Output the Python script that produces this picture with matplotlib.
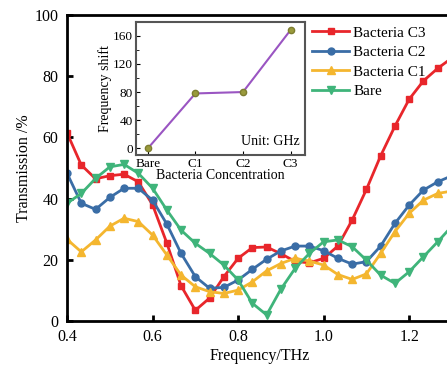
import numpy as np
import matplotlib
matplotlib.use("Agg")
from matplotlib import pyplot as plt
from matplotlib.ticker import MultipleLocator

# Main spectra, one point every 1/30 THz from 0.4 to 1.3
freq = np.round(0.4 + np.arange(28) / 30.0, 4)
c3 = [61.5, 51, 46.5, 47.5, 48, 45.5, 38, 25.5, 11.5, 3.5, 7.5, 14.5, 20.5, 24,
      24.2, 22, 19.5, 19, 20.5, 24.5, 33, 43, 54, 63.7, 72.5, 78.5, 82.6, 86]
c2 = [48.3, 38.5, 36.5, 40.4, 43.4, 43.4, 39.5, 31.7, 22.1, 14.5, 10.7, 11, 13.4, 16.9,
      20.2, 22.9, 24.5, 24.5, 23, 20.5, 18.6, 19.4, 24.5, 31.9, 37.9, 42.8, 45.5, 47.5]
c1 = [26.7, 22.6, 26.5, 31, 33.6, 32.5, 28.1, 21.6, 15, 11.2, 9.6, 9, 10.1, 12.8,
      16.4, 18.8, 20.5, 19.6, 18.3, 15.2, 13.6, 15.4, 22.1, 29.2, 35.2, 39.5, 41.7, 42.5]
bare = [38.5, 41.7, 46.6, 50.4, 51.2, 48.3, 43.4, 36.3, 29.7, 25.4, 22.1, 18.3, 13.4, 5.8,
        2, 10.4, 17.2, 22.1, 25.9, 26.5, 24.3, 19.9, 15, 12.3, 16.1, 21, 25.9, 31]

# Inset: frequency shift in GHz
conc = ["Bare", "C1", "C2", "C3"]
shift = [0, 78, 80, 168]

plt.rcParams["font.family"] = ["Liberation Serif", "DejaVu Serif"]

fig = plt.figure(figsize=(4.47, 3.65), dpi=100)
ax = fig.add_axes([0.150, 0.1205, 0.861, 0.838])

ax.plot(freq, c3, "-s", color="#e8262b", lw=2, ms=5, label="Bacteria C3")
ax.plot(freq, c2, "-o", color="#3a6da6", lw=2, ms=5, label="Bacteria C2")
ax.plot(freq, c1, "-^", color="#f4b62f", lw=2, ms=5.5, label="Bacteria C1")
ax.plot(freq, bare, "-v", color="#3fb47a", lw=2, ms=5.5, label="Bare")

ax.set_xlim(0.4, 1.3)
ax.set_ylim(0, 100)
ax.set_xticks([0.4, 0.6, 0.8, 1.0, 1.2])
ax.set_yticks([0, 20, 40, 60, 80, 100])
ax.tick_params(direction="in", width=2, length=4, labelsize=11.5, pad=6)
for s in ax.spines.values():
    s.set_linewidth(2)
ax.spines["right"].set_visible(False)
ax.set_xlabel("Frequency/THz", fontsize=11.5, labelpad=2)
ax.set_ylabel("Transmission /%", fontsize=11.5, labelpad=2)

ax.legend(loc="upper left", bbox_to_anchor=(0.637, 0.965), frameon=False,
          fontsize=11, numpoints=1, handlelength=2.4, handletextpad=0.3,
          labelspacing=0.38, borderaxespad=0, borderpad=0)

# Inset
ins = fig.add_axes([0.304, 0.575, 0.378, 0.364])
ins.plot(range(len(conc)), shift, "-o", color="#9a55c2", lw=1.5, ms=4.5,
         mfc="#9a9a3c", mec="#7d7d30")
ins.set_xlim(-0.25, 3.3)
ins.set_ylim(-9.5, 179)
ins.set_xticks(range(len(conc)))
ins.set_xticklabels(conc)
ins.set_yticks([0, 40, 80, 120, 160])
ins.yaxis.set_minor_locator(MultipleLocator(20))
ins.tick_params(direction="in", labelsize=9.5, length=3, pad=2)
ins.tick_params(which="minor", direction="in", length=2)
for s in ins.spines.values():
    s.set_linewidth(1.5)
    s.set_color("#555555")
ins.set_xlabel("Bacteria Concentration", fontsize=10, labelpad=-1)
ins.set_ylabel("Frequency shift", fontsize=10, labelpad=1)
ins.text(0.97, 0.05, "Unit: GHz", transform=ins.transAxes, ha="right",
         va="bottom", fontsize=10)

fig.savefig("out.png", dpi=100)
